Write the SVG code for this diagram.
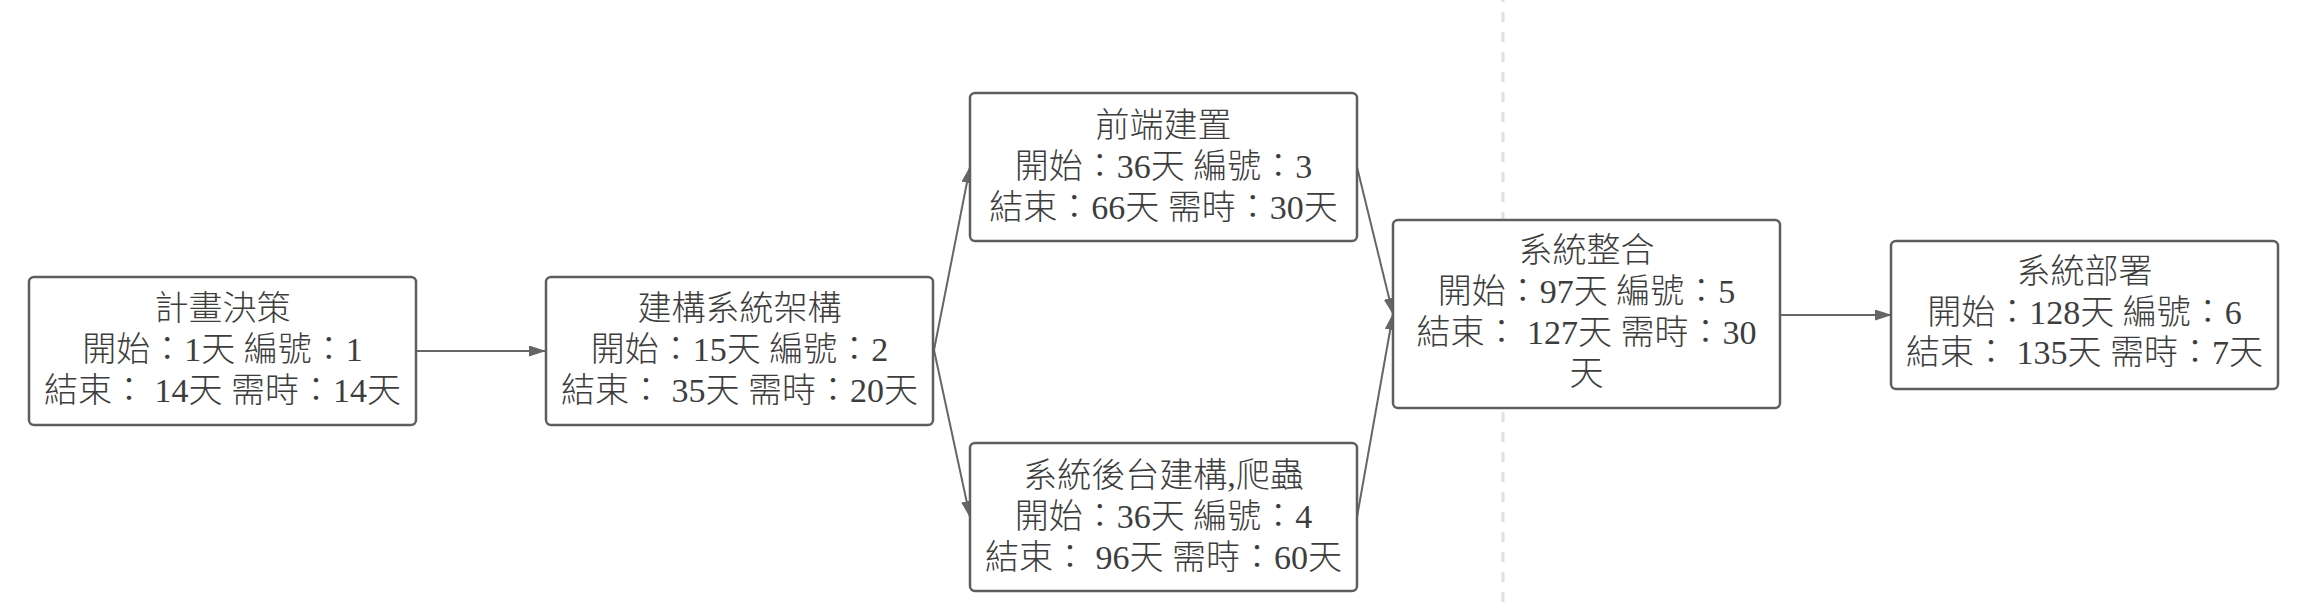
<svg xmlns="http://www.w3.org/2000/svg" width="2306" height="612" viewBox="0 0 2306 612">
<style>
.bg{fill:#ffffff}
.node rect{fill:#ffffff;stroke:#5e5e5e;stroke-width:2.5}
.node text{font-family:"Liberation Serif","Noto Sans CJK TC",serif;font-size:34px;font-weight:300;fill:#3d3d3d;text-anchor:middle}
.conn path{fill:none;stroke:#666666;stroke-width:2}
.guide{stroke:#e0e0e0;stroke-width:3;stroke-dasharray:10 10;stroke-dashoffset:8}
</style>
<defs>
<marker id="arrow" markerUnits="userSpaceOnUse" markerWidth="18" markerHeight="12" refX="16" refY="5.5" orient="auto">
<path d="M0,0 L17,5.5 L0,11 Z" fill="#666666"/>
</marker>
</defs>
<rect class="bg" x="0" y="0" width="2306" height="612"/>
<line class="guide" x1="1503" y1="0" x2="1503" y2="612"/>
<g id="connectors" class="conn">
<path d="M416,351 L545,351" marker-end="url(#arrow)"/>
<path d="M934,350 L970,167" marker-end="url(#arrow)"/>
<path d="M934,350 L970,517" marker-end="url(#arrow)"/>
<path d="M1357,167 L1393,314" marker-end="url(#arrow)"/>
<path d="M1357,517 L1393,314" marker-end="url(#arrow)"/>
<path d="M1780,315 L1891,315" marker-end="url(#arrow)"/>
</g>
<g id="node1" class="node">
<rect x="29" y="277" width="387" height="148" rx="5"/>
<text x="222.5" y="320">計畫決策</text>
<text x="222.5" y="361">開始：1天 編號：1</text>
<text x="222.5" y="402">結束： 14天 需時：14天</text>
</g>
<g id="node2" class="node">
<rect x="546" y="277" width="387" height="148" rx="5"/>
<text x="739.5" y="320">建構系統架構</text>
<text x="739.5" y="361">開始：15天 編號：2</text>
<text x="739.5" y="402">結束： 35天 需時：20天</text>
</g>
<g id="node3" class="node">
<rect x="970" y="93" width="387" height="148" rx="5"/>
<text x="1163.5" y="137">前端建置</text>
<text x="1163.5" y="178">開始：36天 編號：3</text>
<text x="1163.5" y="219">結束：66天 需時：30天</text>
</g>
<g id="node4" class="node">
<rect x="970" y="443" width="387" height="148" rx="5"/>
<text x="1163.5" y="487">系統後台建構,爬蟲</text>
<text x="1163.5" y="528">開始：36天 編號：4</text>
<text x="1163.5" y="569">結束： 96天 需時：60天</text>
</g>
<g id="node5" class="node">
<rect x="1393" y="220" width="387" height="188" rx="5"/>
<text x="1586.5" y="262">系統整合</text>
<text x="1586.5" y="303">開始：97天 編號：5</text>
<text x="1586.5" y="344">結束： 127天 需時：30</text>
<text x="1586.5" y="385">天</text>
</g>
<g id="node6" class="node">
<rect x="1891" y="241" width="387" height="148" rx="5"/>
<text x="2084.5" y="283">系統部署</text>
<text x="2084.5" y="324">開始：128天 編號：6</text>
<text x="2084.5" y="364">結束： 135天 需時：7天</text>
</g>
</svg>
